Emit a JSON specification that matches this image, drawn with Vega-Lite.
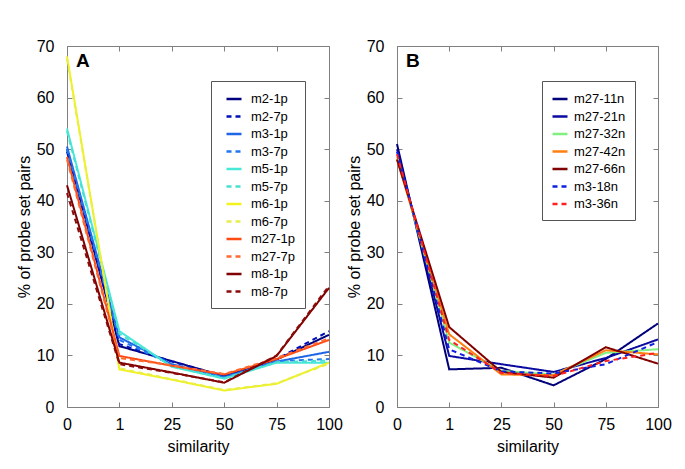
{
  "$schema": "https://vega.github.io/schema/vega-lite/v6.json",
  "padding": {"left": 15, "top": 37, "right": 5, "bottom": 5},
  "background": "white",
  "config": {
    "font": "Liberation Sans",
    "view": {"stroke": "#808080", "strokeWidth": 1},
    "axis": {
      "domainColor": "#808080", "tickColor": "#808080", "tickSize": -5, "grid": false,
      "labelFont": "Liberation Sans", "titleFont": "Liberation Sans",
      "labelFontSize": 16, "titleFontSize": 16, "titleFontWeight": "normal",
      "labelColor": "#000", "titleColor": "#000"
    },
    "axisX": {"labelPadding": 14, "titlePadding": 6},
    "axisY": {"labelPadding": 18, "titlePadding": 4},
    "legend": {
      "orient": "none", "title": null, "strokeColor": "#555", "fillColor": "white",
      "padding": 9, "symbolType": "stroke", "symbolSize": 225, "symbolStrokeWidth": 2.5,
      "labelFont": "Liberation Sans", "labelFontSize": 13, "labelColor": "#000", "rowPadding": 1.5
    }
  },
  "datasets": {
    "A": [
      {"series": "m2-1p", "sim": 0, "value": 50}, {"series": "m2-1p", "sim": 1, "value": 11.8}, {"series": "m2-1p", "sim": 25, "value": 8.9}, {"series": "m2-1p", "sim": 50, "value": 6.0}, {"series": "m2-1p", "sim": 75, "value": 9.2}, {"series": "m2-1p", "sim": 100, "value": 14.0},
      {"series": "m2-7p", "sim": 0, "value": 49.5}, {"series": "m2-7p", "sim": 1, "value": 12.2}, {"series": "m2-7p", "sim": 25, "value": 8.8}, {"series": "m2-7p", "sim": 50, "value": 5.9}, {"series": "m2-7p", "sim": 75, "value": 9.3}, {"series": "m2-7p", "sim": 100, "value": 14.7},
      {"series": "m3-1p", "sim": 0, "value": 50.5}, {"series": "m3-1p", "sim": 1, "value": 13.5}, {"series": "m3-1p", "sim": 25, "value": 8.3}, {"series": "m3-1p", "sim": 50, "value": 5.8}, {"series": "m3-1p", "sim": 75, "value": 8.8}, {"series": "m3-1p", "sim": 100, "value": 10.7},
      {"series": "m3-7p", "sim": 0, "value": 50}, {"series": "m3-7p", "sim": 1, "value": 13}, {"series": "m3-7p", "sim": 25, "value": 8.2}, {"series": "m3-7p", "sim": 50, "value": 5.7}, {"series": "m3-7p", "sim": 75, "value": 8.9}, {"series": "m3-7p", "sim": 100, "value": 9.3},
      {"series": "m5-1p", "sim": 0, "value": 54}, {"series": "m5-1p", "sim": 1, "value": 14.7}, {"series": "m5-1p", "sim": 25, "value": 7.8}, {"series": "m5-1p", "sim": 50, "value": 5.5}, {"series": "m5-1p", "sim": 75, "value": 8.6}, {"series": "m5-1p", "sim": 100, "value": 8.6},
      {"series": "m5-7p", "sim": 0, "value": 53.5}, {"series": "m5-7p", "sim": 1, "value": 14.2}, {"series": "m5-7p", "sim": 25, "value": 7.9}, {"series": "m5-7p", "sim": 50, "value": 5.6}, {"series": "m5-7p", "sim": 75, "value": 8.7}, {"series": "m5-7p", "sim": 100, "value": 9.0},
      {"series": "m6-1p", "sim": 0, "value": 68}, {"series": "m6-1p", "sim": 1, "value": 7.3}, {"series": "m6-1p", "sim": 25, "value": 5.3}, {"series": "m6-1p", "sim": 50, "value": 3.2}, {"series": "m6-1p", "sim": 75, "value": 4.5}, {"series": "m6-1p", "sim": 100, "value": 8.6},
      {"series": "m6-7p", "sim": 0, "value": 67.5}, {"series": "m6-7p", "sim": 1, "value": 7.5}, {"series": "m6-7p", "sim": 25, "value": 5.4}, {"series": "m6-7p", "sim": 50, "value": 3.3}, {"series": "m6-7p", "sim": 75, "value": 4.6}, {"series": "m6-7p", "sim": 100, "value": 8.4},
      {"series": "m27-1p", "sim": 0, "value": 48.5}, {"series": "m27-1p", "sim": 1, "value": 9.9}, {"series": "m27-1p", "sim": 25, "value": 8.0}, {"series": "m27-1p", "sim": 50, "value": 6.3}, {"series": "m27-1p", "sim": 75, "value": 9.3}, {"series": "m27-1p", "sim": 100, "value": 13.0},
      {"series": "m27-7p", "sim": 0, "value": 48}, {"series": "m27-7p", "sim": 1, "value": 9.5}, {"series": "m27-7p", "sim": 25, "value": 8.1}, {"series": "m27-7p", "sim": 50, "value": 6.4}, {"series": "m27-7p", "sim": 75, "value": 9.5}, {"series": "m27-7p", "sim": 100, "value": 13.3},
      {"series": "m8-1p", "sim": 0, "value": 43}, {"series": "m8-1p", "sim": 1, "value": 8.6}, {"series": "m8-1p", "sim": 25, "value": 6.7}, {"series": "m8-1p", "sim": 50, "value": 4.7}, {"series": "m8-1p", "sim": 75, "value": 9.9}, {"series": "m8-1p", "sim": 100, "value": 23.1},
      {"series": "m8-7p", "sim": 0, "value": 41.5}, {"series": "m8-7p", "sim": 1, "value": 8.3}, {"series": "m8-7p", "sim": 25, "value": 6.6}, {"series": "m8-7p", "sim": 50, "value": 4.8}, {"series": "m8-7p", "sim": 75, "value": 10.0}, {"series": "m8-7p", "sim": 100, "value": 23.5}
    ],
    "B": [
      {"series": "m27-11n", "sim": 0, "value": 51}, {"series": "m27-11n", "sim": 1, "value": 7.3}, {"series": "m27-11n", "sim": 25, "value": 7.6}, {"series": "m27-11n", "sim": 50, "value": 4.2}, {"series": "m27-11n", "sim": 75, "value": 9.3}, {"series": "m27-11n", "sim": 100, "value": 16.2},
      {"series": "m27-21n", "sim": 0, "value": 50}, {"series": "m27-21n", "sim": 1, "value": 9.9}, {"series": "m27-21n", "sim": 25, "value": 8.3}, {"series": "m27-21n", "sim": 50, "value": 6.8}, {"series": "m27-21n", "sim": 75, "value": 9.5}, {"series": "m27-21n", "sim": 100, "value": 13.1},
      {"series": "m27-32n", "sim": 0, "value": 48.5}, {"series": "m27-32n", "sim": 1, "value": 12.5}, {"series": "m27-32n", "sim": 25, "value": 7.0}, {"series": "m27-32n", "sim": 50, "value": 6.3}, {"series": "m27-32n", "sim": 75, "value": 10.5}, {"series": "m27-32n", "sim": 100, "value": 11.2},
      {"series": "m27-42n", "sim": 0, "value": 48}, {"series": "m27-42n", "sim": 1, "value": 14.1}, {"series": "m27-42n", "sim": 25, "value": 6.3}, {"series": "m27-42n", "sim": 50, "value": 6.2}, {"series": "m27-42n", "sim": 75, "value": 11.0}, {"series": "m27-42n", "sim": 100, "value": 10.2},
      {"series": "m27-66n", "sim": 0, "value": 48}, {"series": "m27-66n", "sim": 1, "value": 15.5}, {"series": "m27-66n", "sim": 25, "value": 6.8}, {"series": "m27-66n", "sim": 50, "value": 5.7}, {"series": "m27-66n", "sim": 75, "value": 11.6}, {"series": "m27-66n", "sim": 100, "value": 8.4},
      {"series": "m3-18n", "sim": 0, "value": 49.5}, {"series": "m3-18n", "sim": 1, "value": 11.2}, {"series": "m3-18n", "sim": 25, "value": 6.9}, {"series": "m3-18n", "sim": 50, "value": 6.5}, {"series": "m3-18n", "sim": 75, "value": 8.3}, {"series": "m3-18n", "sim": 100, "value": 12.6},
      {"series": "m3-36n", "sim": 0, "value": 49}, {"series": "m3-36n", "sim": 1, "value": 13.0}, {"series": "m3-36n", "sim": 25, "value": 6.6}, {"series": "m3-36n", "sim": 50, "value": 6.0}, {"series": "m3-36n", "sim": 75, "value": 8.9}, {"series": "m3-36n", "sim": 100, "value": 10.5}
    ]
  },
  "spacing": 2,
  "hconcat": [
    {
      "width": 262, "height": 361,
      "resolve": {"axis": {"x": "independent", "y": "independent"}},
      "layer": [
        {
          "data": {"name": "A"},
          "mark": {"type": "line", "strokeWidth": 2},
          "encoding": {
            "x": {"field": "sim", "type": "ordinal", "sort": null,
                  "scale": {"type": "point", "padding": 0, "domain": [0, 1, 25, 50, 75, 100]},
                  "axis": {"orient": "bottom", "title": "similarity", "labelAngle": 0}},
            "y": {"field": "value", "type": "quantitative",
                  "scale": {"domain": [0, 70], "nice": false},
                  "axis": {"orient": "left", "title": "% of probe set pairs", "values": [0, 10, 20, 30, 40, 50, 60, 70]}},
            "detail": {"field": "series"},
            "color": {"field": "series", "type": "nominal",
                      "scale": {"domain": ["m2-1p", "m2-7p", "m3-1p", "m3-7p", "m5-1p", "m5-7p", "m6-1p", "m6-7p", "m27-1p", "m27-7p", "m8-1p", "m8-7p"],
                                "range": ["#00007F", "#0010B8", "#1E66E6", "#2277F0", "#48E8D8", "#48E0D0", "#F2F21E", "#E6EE4A", "#FF4A14", "#FF6A30", "#7F0000", "#8B0A0A"]},
                      "legend": {"legendX": 144, "legendY": 35, "symbolOffset": 5, "labelOffset": 8}},
            "strokeDash": {"field": "series", "type": "nominal",
                      "scale": {"domain": ["m2-1p", "m2-7p", "m3-1p", "m3-7p", "m5-1p", "m5-7p", "m6-1p", "m6-7p", "m27-1p", "m27-7p", "m8-1p", "m8-7p"],
                                "range": [[1, 0], [5, 4], [1, 0], [5, 4], [1, 0], [5, 4], [1, 0], [5, 4], [1, 0], [5, 4], [1, 0], [5, 4]]},
                      "legend": {"legendX": 144, "legendY": 35, "symbolOffset": 5, "labelOffset": 8}}
          }
        },
        {
          "data": {"values": [{"label": "A"}]},
          "mark": {"type": "text", "align": "left", "baseline": "top", "dx": 9, "dy": 6, "fontSize": 19, "fontWeight": "bold", "font": "Liberation Sans", "color": "#000"},
          "encoding": {
            "x": {"datum": 0, "type": "ordinal", "axis": {"orient": "top", "labels": false, "title": null, "domain": false}},
            "y": {"datum": 70, "type": "quantitative", "axis": {"orient": "right", "labels": false, "title": null, "domain": false, "values": [0, 10, 20, 30, 40, 50, 60, 70]}},
            "text": {"field": "label"}
          }
        }
      ]
    },
    {
      "width": 261, "height": 361,
      "resolve": {"axis": {"x": "independent", "y": "independent"}},
      "layer": [
        {
          "data": {"name": "B"},
          "mark": {"type": "line", "strokeWidth": 2},
          "encoding": {
            "x": {"field": "sim", "type": "ordinal", "sort": null,
                  "scale": {"type": "point", "padding": 0, "domain": [0, 1, 25, 50, 75, 100]},
                  "axis": {"orient": "bottom", "title": "similarity", "labelAngle": 0}},
            "y": {"field": "value", "type": "quantitative",
                  "scale": {"domain": [0, 70], "nice": false},
                  "axis": {"orient": "left", "title": "% of probe set pairs", "values": [0, 10, 20, 30, 40, 50, 60, 70]}},
            "detail": {"field": "series"},
            "color": {"field": "series", "type": "nominal",
                      "scale": {"domain": ["m27-11n", "m27-21n", "m27-32n", "m27-42n", "m27-66n", "m3-18n", "m3-36n"],
                                "range": ["#00007A", "#0A0AA0", "#80F080", "#FF8010", "#800000", "#1020E0", "#FF2020"]},
                      "legend": {"legendX": 145, "legendY": 35, "labelOffset": 5}},
            "strokeDash": {"field": "series", "type": "nominal",
                      "scale": {"domain": ["m27-11n", "m27-21n", "m27-32n", "m27-42n", "m27-66n", "m3-18n", "m3-36n"],
                                "range": [[1, 0], [1, 0], [1, 0], [1, 0], [1, 0], [5, 4], [5, 4]]},
                      "legend": {"legendX": 145, "legendY": 35, "labelOffset": 5}}
          }
        },
        {
          "data": {"values": [{"label": "B"}]},
          "mark": {"type": "text", "align": "left", "baseline": "top", "dx": 9, "dy": 6, "fontSize": 19, "fontWeight": "bold", "font": "Liberation Sans", "color": "#000"},
          "encoding": {
            "x": {"datum": 0, "type": "ordinal", "axis": {"orient": "top", "labels": false, "title": null, "domain": false}},
            "y": {"datum": 70, "type": "quantitative", "axis": {"orient": "right", "labels": false, "title": null, "domain": false, "values": [0, 10, 20, 30, 40, 50, 60, 70]}},
            "text": {"field": "label"}
          }
        }
      ]
    }
  ],
  "resolve": {"scale": {"color": "independent", "strokeDash": "independent"}, "legend": {"color": "independent", "strokeDash": "independent"}}
}
